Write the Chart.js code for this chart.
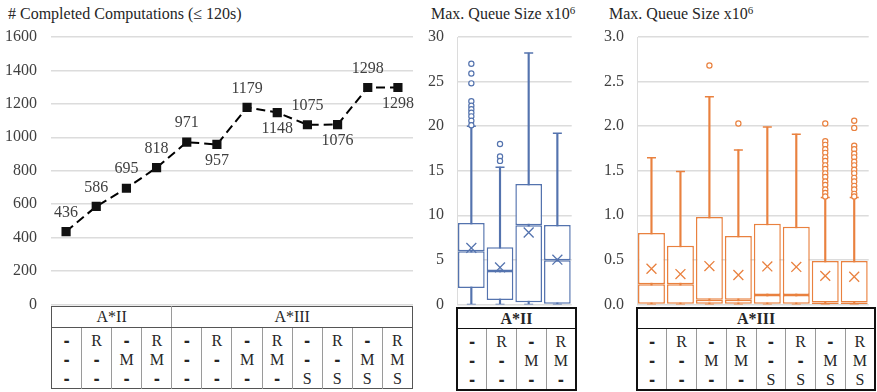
<!DOCTYPE html>
<html lang="en">
<head>
<meta charset="UTF-8" />
<title>Completed computations and max queue size</title>
<script src="https://cdn.jsdelivr.net/npm/chart.js"></script>
<style>
  body { margin: 0; background: #fff; width: 877px; height: 392px; position: relative; overflow: hidden;
         font-family: 'Liberation Serif', 'Times New Roman', serif; color: #262626; }
  .box { position: absolute; }
  .title { position: absolute; font-size: 16px; white-space: nowrap; }
  .title sup { font-size: 11px; vertical-align: 5px; line-height: 0; }
  table { position: absolute; border-collapse: collapse; background: #fff; table-layout: fixed; font-size: 16px; }
  td { text-align: center; padding: 0; border-left: 1px solid #9a9a9a; line-height: 19px; }
  td:first-child { border-left: none; }
  tr.head td { height: 20px; line-height: 20px; border-bottom: 1px solid #555; }
  tr.body td { padding: 3px 0 0 0; height: 57px; }
  .dash { font-family: 'DejaVu Sans', sans-serif; font-weight: bold; font-size: 15px; line-height: 0; }
  #t1 { left: 51px; top: 306px; width: 362px; border: 1px solid #555; }
  #t2 { left: 456px; top: 307px; width: 121px; border: 2px solid #111; }
  #t3 { left: 636px; top: 307px; width: 240px; border: 2px solid #111; }
  #t2 tr.head td, #t3 tr.head td { font-weight: bold; border-bottom: 1px solid #111; height: 19px; line-height: 19px; }
</style>
</head>
<body>

<div class="title" style="left:8px; top:5px;"># Completed Computations (≤ 120s)</div>
<div class="title" style="left:431px; top:5px;">Max. Queue Size x10<sup>6</sup></div>
<div class="title" style="left:609px; top:5px;">Max. Queue Size x10<sup>6</sup></div>

<div class="box" style="left:0; top:0; width:420px; height:328px;"><canvas id="lineChart"></canvas></div>
<div class="box" style="left:410px; top:0; width:170px; height:327px;"><canvas id="boxA2"></canvas></div>
<div class="box" style="left:590px; top:0; width:287px; height:327px;"><canvas id="boxA3"></canvas></div>

<table id="t1"></table>
<table id="t2"></table>
<table id="t3"></table>

<script>
// configurations: R / M / S flags per column, "-" = off
const flagsA2 = [['-','-','-'], ['R','-','-'], ['-','M','-'], ['R','M','-']];
const flagsA3 = [['-','-','-'], ['R','-','-'], ['-','M','-'], ['R','M','-'],
                 ['-','-','S'], ['R','-','S'], ['-','M','S'], ['R','M','S']];
const labelsA2 = flagsA2.map(f => f.join(''));
const labelsA3 = flagsA3.map(f => f.join(''));
const lineLabels = labelsA2.map(l => 'A*II ' + l).concat(labelsA3.map(l => 'A*III ' + l));

// completed computations within 120s
const completed = [436, 586, 695, 818, 971, 957, 1179, 1148, 1075, 1076, 1298, 1298];

// max queue size x10^6, A*II
const a2Min    = [0, 0, 0, 0];
const a2Q1     = [1.85, 0.5, 0.25, 0.06];
const a2Median = [5.97, 3.74, 8.87, 4.95];
const a2Q3     = [9.14, 6.42, 13.51, 8.91];
const a2Max    = [20.0, 15.4, 28.2, 19.2];
const a2Mean   = [6.34, 4.15, 8.07, 5.02];
const a2Outliers = [
  [27.0, 25.9, 24.8, 22.8, 22.3, 21.9, 21.5, 21.1, 20.6, 20.1],
  [18.0, 16.6, 16.1],
  [],
  []
];

// max queue size x10^6, A*III
const a3Min    = [0, 0, 0, 0, 0, 0, 0, 0];
const a3Q1     = [0.008, 0.008, 0.008, 0.008, 0.008, 0.008, 0.005, 0.005];
const a3Median = [0.226, 0.226, 0.052, 0.052, 0.105, 0.105, 0.02, 0.02];
const a3Q3     = [0.80, 0.657, 0.98, 0.766, 0.906, 0.872, 0.487, 0.487];
const a3Max    = [1.645, 1.49, 2.33, 1.733, 1.99, 1.91, 1.2, 1.2];
const a3Mean   = [0.40, 0.34, 0.43, 0.33, 0.426, 0.42, 0.32, 0.31];
const a3Outliers = [
  [], [], [2.68], [2.03], [], [],
  [2.03, 1.83, 1.79, 1.74, 1.70, 1.65, 1.61, 1.56, 1.52, 1.47, 1.43, 1.38, 1.34, 1.29, 1.25, 1.21],
  [2.06, 1.98, 1.78, 1.74, 1.69, 1.65, 1.60, 1.56, 1.51, 1.47, 1.42, 1.38, 1.33, 1.29, 1.24, 1.21]
];

// tick settings
const lineTickMax = 1600, lineTickStep = 200;
const a2TickMax = 30, a2TickStep = 5;
const a3TickMax = 3, a3TickStep = 0.5;

// where the value labels sit on the line chart
const labelSide = ['up','up','up','up','up','down','up','down','up','down','up','down'];

const serif = "'Liberation Serif', 'Times New Roman', serif";
const tickColor = '#404040';
const gridColor = '#dcdcdc';
const tickFont = { family: serif, size: 16 };

Chart.defaults.animation = false;
Chart.defaults.font.family = serif;

const valueLabels = {
  id: 'valueLabels',
  afterDatasetsDraw(chart) {
    const ctx = chart.ctx;
    const meta = chart.getDatasetMeta(0);
    ctx.save();
    ctx.font = '16px ' + serif;
    ctx.fillStyle = tickColor;
    ctx.textAlign = 'center';
    ctx.textBaseline = 'middle';
    meta.data.forEach((pt, i) => {
      const dy = labelSide[i] === 'up' ? -19 : 16;
      ctx.fillText(String(completed[i]), pt.x, pt.y + dy);
    });
    ctx.restore();
  }
};

new Chart(document.getElementById('lineChart'), {
  type: 'line',
  data: {
    labels: lineLabels,
    datasets: [{
      data: completed,
      borderColor: '#000',
      borderWidth: 2,
      borderDash: [9, 5],
      tension: 0,
      pointStyle: 'rect',
      pointRadius: 6.5,
      pointBackgroundColor: '#111',
      pointBorderColor: '#111',
      pointBorderWidth: 0
    }]
  },
  options: {
    responsive: true,
    maintainAspectRatio: false,
    layout: { padding: { top: 37, right: 7, bottom: 10, left: 0 } },
    plugins: { legend: { display: false }, tooltip: { enabled: false } },
    scales: {
      x: { display: false, offset: true },
      y: {
        min: 0, max: lineTickMax,
        afterFit: s => { s.width = 51; },
        ticks: { stepSize: lineTickStep, color: tickColor, font: tickFont, padding: 14,
                 callback: v => String(v) },
        grid: { color: gridColor, lineWidth: 1.5, drawTicks: false },
        border: { display: false }
      }
    }
  },
  plugins: [valueLabels]
});

function boxChart(id, labels, mins, q1, med, q3, maxs, means, outliers, color, tickMax, tickStep, decimals) {
  const outlierPts = [];
  outliers.forEach((list, i) => list.forEach(v => outlierPts.push({ x: labels[i], y: v })));
  const capPts = [];
  labels.forEach((l, i) => { capPts.push({ x: l, y: maxs[i] }); capPts.push({ x: l, y: mins[i] }); });
  const boxStyle = {
    type: 'bar', backgroundColor: '#fff', borderColor: color, borderWidth: 1.5,
    borderSkipped: false, grouped: false, barPercentage: 0.93, categoryPercentage: 1, order: 3
  };
  new Chart(document.getElementById(id), {
    data: {
      labels: labels,
      datasets: [
        { type: 'line', data: means, showLine: false, pointStyle: 'crossRot', pointRadius: 7,
          borderColor: color, borderWidth: 1.3, order: 0 },
        { type: 'line', data: outlierPts, showLine: false, pointStyle: 'circle', pointRadius: 2.6,
          borderColor: color, backgroundColor: '#fff', borderWidth: 1.2, order: 1 },
        { type: 'line', data: capPts, showLine: false, pointStyle: 'line', pointRadius: 4.5,
          borderColor: color, borderWidth: 1.5, order: 2 },
        Object.assign({ data: labels.map((_, i) => [q1[i], med[i]]) }, boxStyle),
        Object.assign({ data: labels.map((_, i) => [med[i], q3[i]]) }, boxStyle),
        { type: 'bar', data: labels.map((_, i) => [mins[i], maxs[i]]), backgroundColor: color,
          barThickness: 1.5, grouped: false, order: 5 }
      ]
    },
    options: {
      responsive: true,
      maintainAspectRatio: false,
      layout: { padding: { top: 37, right: 0, bottom: 10, left: 0 } },
      plugins: { legend: { display: false }, tooltip: { enabled: false } },
      scales: {
        x: { display: false, offset: true },
        y: {
          min: 0, max: tickMax,
          afterFit: s => { s.width = 47; },
          ticks: { stepSize: tickStep, color: tickColor, font: tickFont, padding: 13,
                   callback: v => Number(v).toFixed(decimals) },
          grid: { color: gridColor, lineWidth: 1.5, drawTicks: false },
          border: { display: true, color: gridColor, width: 1 }
        }
      }
    }
  });
}

boxChart('boxA2', labelsA2, a2Min, a2Q1, a2Median, a2Q3, a2Max, a2Mean, a2Outliers,
         '#5473ae', a2TickMax, a2TickStep, 0);
boxChart('boxA3', labelsA3, a3Min, a3Q1, a3Median, a3Q3, a3Max, a3Mean, a3Outliers,
         '#e9813f', a3TickMax, a3TickStep, 1);

function cell(ch) {
  return ch === '-' ? '<span class="dash">-</span>' : ch;
}

function fillTable(id, groups) {
  let head = '<tr class="head">';
  let body = '<tr class="body">';
  groups.forEach(g => {
    head += '<td colspan="' + g.flags.length + '">' + g.name + '</td>';
    g.flags.forEach(f => { body += '<td>' + f.map(cell).join('<br>') + '</td>'; });
  });
  document.getElementById(id).innerHTML = head + '</tr>' + body + '</tr>';
}

fillTable('t1', [{ name: 'A*II', flags: flagsA2 }, { name: 'A*III', flags: flagsA3 }]);
fillTable('t2', [{ name: 'A*II', flags: flagsA2 }]);
fillTable('t3', [{ name: 'A*III', flags: flagsA3 }]);
</script>
</body>
</html>
